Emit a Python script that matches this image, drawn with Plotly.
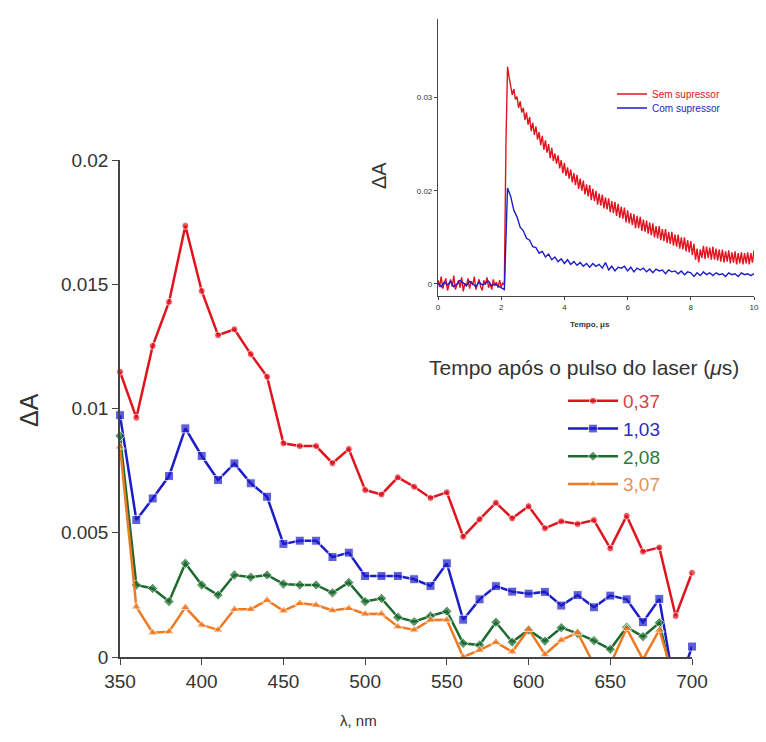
import plotly.graph_objects as go

# ---- transient absorption spectra (main panel) ----
wavelength = [350, 360, 370, 380, 390, 400, 410, 420, 430, 440, 450, 460, 470, 480,
              490, 500, 510, 520, 530, 540, 550, 560, 570, 580, 590, 600, 610, 620,
              630, 640, 650, 660, 670, 680, 690, 700]

da_037 = [0.01148, 0.00963, 0.01252, 0.01429, 0.01735, 0.01473, 0.01295, 0.01319,
          0.01219, 0.01128, 0.00860, 0.00849, 0.00849, 0.00780, 0.00837, 0.00672,
          0.00654, 0.00723, 0.00685, 0.00640, 0.00663, 0.00484, 0.00554, 0.00621,
          0.00558, 0.00607, 0.00518, 0.00546, 0.00535, 0.00551, 0.00437, 0.00568,
          0.00424, 0.00441, 0.00165, 0.00339]

da_103 = [0.00973, 0.00551, 0.00638, 0.00728, 0.00920, 0.00809, 0.00712, 0.00779,
          0.00699, 0.00645, 0.00455, 0.00468, 0.00468, 0.00402, 0.00420, 0.00326,
          0.00326, 0.00326, 0.00313, 0.00286, 0.00377, 0.00150, 0.00232, 0.00285,
          0.00263, 0.00255, 0.00262, 0.00207, 0.00249, 0.00200, 0.00247, 0.00232,
          0.00140, 0.00234, -0.00150, 0.00042]

da_208 = [0.00890, 0.00290, 0.00276, 0.00223, 0.00377, 0.00290, 0.00249, 0.00330,
          0.00321, 0.00330, 0.00294, 0.00290, 0.00290, 0.00258, 0.00300, 0.00223,
          0.00236, 0.00160, 0.00142, 0.00165, 0.00184, 0.00055, 0.00048, 0.00140,
          0.00060, 0.00109, 0.00064, 0.00118, 0.00095, 0.00066, 0.00031, 0.00120,
          0.00082, 0.00138, -0.00140]

da_307 = [0.00846, 0.00202, 0.00098, 0.00102, 0.00200, 0.00129, 0.00109, 0.00192,
          0.00192, 0.00229, 0.00186, 0.00216, 0.00209, 0.00187, 0.00196, 0.00173,
          0.00174, 0.00122, 0.00109, 0.00149, 0.00150, 0.00000, 0.00028, 0.00060,
          0.00021, 0.00112, 0.00010, 0.00068, 0.00098, -0.00030, -0.00030, 0.00115,
          -0.00010, 0.00109, -0.00110]

delay_labels = ["0,37", "1,03", "2,08", "3,07"]
x_ticks = [350, 400, 450, 500, 550, 600, 650, 700]
y_ticks = [0, 0.005, 0.01, 0.015, 0.02]
y_ticklabels = ["0", "0.005", "0.01", "0.015", "0.02"]

# ---- kinetic traces (inset) ----
# without quencher: sampled every 0.05 us
kin_sem = [0.0104, 0.0097, 0.0108, 0.0095, 0.0101, 0.0106, 0.0093, 0.0099, 0.0105, 0.0097,
           0.0109, 0.0094, 0.0100, 0.0104, 0.0096, 0.0107, 0.0092, 0.0101, 0.0098, 0.0106,
           0.0095, 0.0103, 0.0099, 0.0108, 0.0094, 0.0100, 0.0105, 0.0097, 0.0093, 0.0104,
           0.0099, 0.0107, 0.0096, 0.0101, 0.0094, 0.0105, 0.0098, 0.0102, 0.0096, 0.0104,
           0.0097, 0.0101, 0.0099,
           0.0250, 0.0333, 0.0322,
           0.0314, 0.0303, 0.0309, 0.0298, 0.0301, 0.0289, 0.0296, 0.0284, 0.0289, 0.0276,
           0.0284, 0.0271, 0.0279, 0.0264, 0.0273, 0.0260, 0.0269, 0.0255, 0.0263, 0.0249,
           0.0259, 0.0244, 0.0254, 0.0241, 0.0250, 0.0235, 0.0246, 0.0232, 0.0240, 0.0229,
           0.0238, 0.0224, 0.0233, 0.0219, 0.0230, 0.0216, 0.0225, 0.0213, 0.0223, 0.0209,
           0.0219, 0.0206, 0.0217, 0.0202, 0.0213, 0.0200, 0.0211, 0.0196, 0.0207, 0.0194,
           0.0206, 0.0190, 0.0202, 0.0189, 0.0200, 0.0185, 0.0197, 0.0184, 0.0196, 0.0181,
           0.0193, 0.0180, 0.0192, 0.0177, 0.0189, 0.0176, 0.0188, 0.0173, 0.0186, 0.0171,
           0.0183, 0.0170, 0.0182, 0.0166, 0.0179, 0.0165, 0.0176, 0.0163, 0.0175, 0.0160,
           0.0173, 0.0160, 0.0172, 0.0157, 0.0169, 0.0156, 0.0168, 0.0154, 0.0166, 0.0152,
           0.0165, 0.0150, 0.0162, 0.0149, 0.0162, 0.0147, 0.0159, 0.0146, 0.0159, 0.0144,
           0.0156, 0.0143, 0.0156, 0.0141, 0.0153, 0.0140, 0.0153, 0.0138, 0.0150, 0.0137,
           0.0150, 0.0135, 0.0147, 0.0134, 0.0146, 0.0131, 0.0143, 0.0126, 0.0138, 0.0123,
           0.0137, 0.0128, 0.0141, 0.0127, 0.0140, 0.0128, 0.0139, 0.0126, 0.0140, 0.0126,
           0.0138, 0.0125, 0.0137, 0.0124, 0.0137, 0.0123, 0.0135, 0.0124, 0.0136, 0.0122,
           0.0134, 0.0123, 0.0135, 0.0121, 0.0133, 0.0122, 0.0134, 0.0121, 0.0133, 0.0122,
           0.0134, 0.0121, 0.0133, 0.0123,
           0.0136]

# with quencher: sampled every 0.1 us
kin_com = [0.0101, 0.0097, 0.0102, 0.0099, 0.0103, 0.0097, 0.0100, 0.0104, 0.0101, 0.0098,
           0.0103, 0.0100, 0.0097, 0.0102, 0.0099, 0.0101, 0.0103, 0.0098, 0.0100, 0.0098,
           0.0096, 0.0094,
           0.0203, 0.0194, 0.0179, 0.0172, 0.0161, 0.0157, 0.0149, 0.0147, 0.0140, 0.0139,
           0.0133, 0.0135, 0.0129, 0.0132, 0.0126, 0.0129, 0.0124, 0.0127, 0.0122, 0.0126,
           0.0121, 0.0124, 0.0120, 0.0123, 0.0119, 0.0122, 0.0118, 0.0122, 0.0119, 0.0121,
           0.0117, 0.0123, 0.0115, 0.0119, 0.0114, 0.0118, 0.0117, 0.0119, 0.0114, 0.0118,
           0.0113, 0.0117, 0.0115, 0.0117, 0.0113, 0.0116, 0.0112, 0.0116, 0.0114, 0.0115,
           0.0111, 0.0115, 0.0113, 0.0114, 0.0111, 0.0114, 0.0110, 0.0113, 0.0112, 0.0108,
           0.0112, 0.0109, 0.0113, 0.0110, 0.0112, 0.0109, 0.0112, 0.0110, 0.0111, 0.0108,
           0.0112, 0.0110, 0.0111, 0.0108, 0.0112, 0.0110, 0.0111, 0.0109, 0.0111]

kin_t_sem = [round(0.05 * i, 2) for i in range(len(kin_sem))]
kin_t_com = [round(0.1 * i, 1) for i in range(len(kin_com))]
kin_labels = ["Sem supressor", "Com supressor"]
inset_x_ticks = [0, 2, 4, 6, 8, 10]
inset_y_ticks = [0.01, 0.02, 0.03]
inset_y_ticklabels = ["0", "0.02", "0.03"]

RED, BLUE, GREEN, ORANGE = "#e0141e", "#1c1cc8", "#1d6b2e", "#f07a22"
TXT = "#333333"
FONT = "Liberation Sans, Arial, sans-serif"

fig = go.Figure()

series = [
    (da_037, RED, "circle", 7, "#d9434b"),
    (da_103, BLUE, "square", 9, "#2b2bc0"),
    (da_208, GREEN, "diamond", 8, "#2a7a3c"),
    (da_307, ORANGE, "triangle-up", 9, "#e8915a"),
]
for (vals, col, sym, sz, tcol), lab in zip(series, delay_labels):
    xs = wavelength[:len(vals)]
    sizes = [sz if v >= 0 else 0 for v in vals]
    fig.add_trace(go.Scatter(
        x=xs, y=vals, mode="lines+markers",
        name=f'<span style="color:{tcol}">{lab}</span>',
        legendgroup=lab,
        line=dict(color=col, width=2.5),
        marker=dict(symbol=sym, size=sizes, color=col),
        cliponaxis=False,
        xaxis="x", yaxis="y", legend="legend",
    ))

for vals, ts, col, lab, leg in [(kin_sem, kin_t_sem, RED, kin_labels[0], "legend2"),
                                (kin_com, kin_t_com, BLUE, kin_labels[1], "legend3")]:
    fig.add_trace(go.Scatter(
        x=ts, y=vals, mode="lines",
        name=f'<span style="color:{col}">{lab}</span>',
        line=dict(color=col, width=1.4),
        xaxis="x2", yaxis="y2", legend=leg,
    ))

W, H = 766, 742


def px_x(p):
    return p / W


def px_y(p):
    return 1 - p / H


axis_common = dict(showgrid=False, zeroline=False, showline=True, automargin=False,
                   linecolor="#444444", ticks="outside", tickcolor="#444444")


def label(text, x, y, size, angle=0, xanchor="center"):
    return dict(text=text, x=px_x(x), y=px_y(y), xref="paper", yref="paper",
                xanchor=xanchor, yanchor="middle", textangle=angle,
                showarrow=False, font=dict(size=size, color=TXT))


small_legend = dict(xanchor="left", yanchor="middle", bgcolor="rgba(0,0,0,0)",
                    font=dict(size=10, family=FONT), itemwidth=30)

fig.update_layout(
    width=W, height=H, autosize=False,
    margin=dict(l=0, r=0, t=0, b=0, pad=0, autoexpand=False),
    paper_bgcolor="white", plot_bgcolor="rgba(0,0,0,0)",
    font=dict(family=FONT, color=TXT),
    xaxis=dict(axis_common, domain=[px_x(120), px_x(692)], range=[350, 700],
               tickvals=x_ticks, ticklen=6, linewidth=1.5,
               tickfont=dict(size=19, color=TXT), anchor="y"),
    yaxis=dict(axis_common, domain=[px_y(657), px_y(160)], range=[0, 0.02],
               tickvals=y_ticks, ticktext=y_ticklabels, ticklen=6, linewidth=1.5,
               tickfont=dict(size=19, color=TXT), anchor="x"),
    xaxis2=dict(axis_common, domain=[px_x(438), px_x(754)], range=[0, 10],
                tickvals=inset_x_ticks, ticklen=3, linewidth=1.2,
                tickfont=dict(size=8, color=TXT), anchor="y2"),
    yaxis2=dict(axis_common, domain=[px_y(296), px_y(19)], range=[0.00871, 0.03843],
                tickvals=inset_y_ticks, ticktext=inset_y_ticklabels, ticklen=3,
                linewidth=1.2, tickfont=dict(size=8, color=TXT), anchor="x2"),
    legend=dict(x=px_x(563), y=px_y(382), xanchor="left", yanchor="top",
                bgcolor="rgba(0,0,0,0)", font=dict(size=19, family=FONT),
                itemwidth=50, tracegroupgap=2, traceorder="normal"),
    legend2=dict(small_legend, x=px_x(612), y=px_y(94)),
    legend3=dict(small_legend, x=px_x(612), y=px_y(108)),
    showlegend=True,
    annotations=[
        label("Tempo após o pulso do laser (<i>μ</i>s)", 741, 367, 21, xanchor="right"),
        label("ΔA", 29, 410, 25, angle=-90),
        label("λ, nm", 358, 720, 15),
        label("ΔA", 379, 176, 20, angle=-90),
        label("<b>Tempo, μs</b>", 590, 325, 8),
    ],
)

fig.write_html("out.html",
               post_script="document.body.style.margin='0';"
                           "document.body.style.overflow='hidden';")
